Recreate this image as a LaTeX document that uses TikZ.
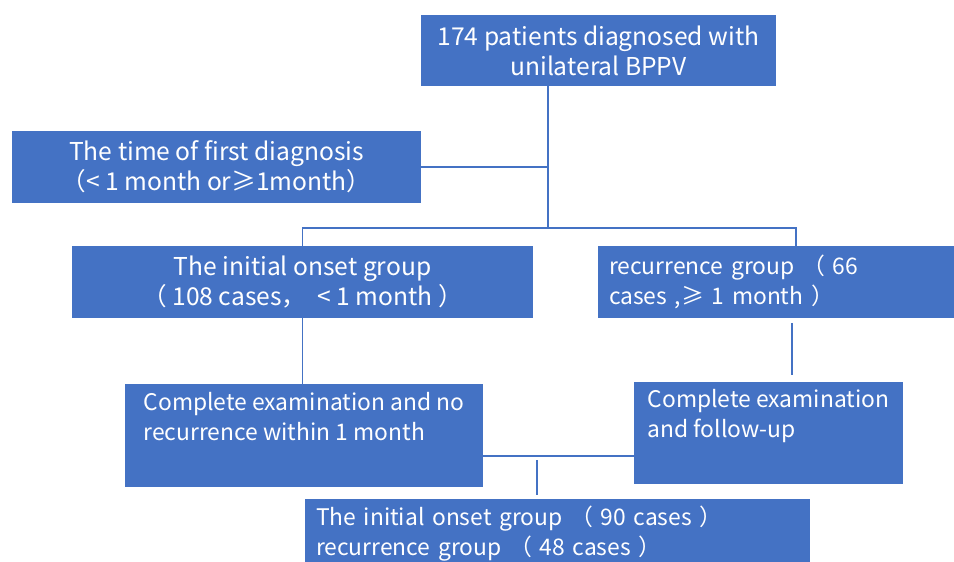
\documentclass[tikz,border=0pt]{standalone}
\usepackage{fontspec}
\usepackage{tikz}
\usetikzlibrary{positioning}
\newfontfamily\cjkfont{Noto Sans CJK SC}
\definecolor{boxblue}{HTML}{4472C4}

\begin{document}
\begin{tikzpicture}[
        box/.style={fill=boxblue, text=white, inner xsep=0.22cm, inner ysep=0pt, outer sep=0pt,
            font=\cjkfont\fontsize{14}{17}\selectfont},
        lbox/.style={box, font=\cjkfont\fontsize{13}{17}\selectfont},
        link/.style={draw=boxblue, line width=0.9pt}]
        \useasboundingbox (0,0) rectangle (19.08,-11.24);
        \node[box, anchor=north west, minimum width=7.10cm, minimum height=1.42cm, align=center] (top) at (8.42,-0.30)
            {174 patients diagnosed with\\unilateral BPPV};
        \node[box, below=0.9cm of top.south west, anchor=north east, minimum width=8.18cm, minimum height=1.44cm, align=center] (time)
            {The time of first diagnosis\\（< 1 month or≥1month）};
        \node[box, below right=0.86cm and 1.2cm of time.south west, anchor=north west, minimum width=9.22cm, minimum height=1.44cm, align=center] (init)
            {The initial onset group\\（ 108 cases，\ \ < 1 month ）};
        \node[lbox, right=1.3cm of init.north east, anchor=north west, minimum width=7.12cm, minimum height=1.44cm, text width=6.68cm, align=left] (recur)
            {recurrence group （ 66\\cases ,≥ 1 month ）};
        \node[lbox, below right=1.32cm and 1.06cm of init.south west, anchor=north west, minimum width=7.16cm, minimum height=2.06cm, align=left] (cmpa)
            {Complete examination and no\\recurrence within 1 month\\\strut};
        \node[lbox, below right=1.28cm and 0.72cm of recur.south west, anchor=north west, minimum width=5.38cm, minimum height=2.04cm, align=left] (cmpb)
            {Complete examination\\and follow-up\\\strut};
        \node[lbox, below right=0.24cm and 3.6cm of cmpa.south west, anchor=north west, minimum width=10.10cm, minimum height=1.4cm, text width=9.66cm, align=left] (final)
            {The initial onset group （ 90 cases ）\\recurrence group （ 48 cases ）};

        % trunk and branches
        \coordinate (t0) at ([xshift=2.54cm]top.south west);
        \coordinate (fork) at ([yshift=-2.84cm]t0);
        \coordinate (rdrop) at ([xshift=3.96cm]recur.north west);
        \draw[link] (t0) -- (fork);
        \draw[link] (time.east) -- (time.east -| t0);
        \draw[link] (init.north) |- (fork) -| (rdrop);
        \draw[link] (init.south) -- (init.south |- cmpa.north);
        \coordinate (r0) at ([xshift=3.88cm,yshift=-0.1cm]recur.south west);
        \coordinate (r1) at ([yshift=-1.04cm]r0);
        \draw[link] (r0) -- (r1);
        \coordinate (j0) at ([yshift=0.62cm]cmpa.south east);
        \draw[link] (j0) -- (j0 -| cmpb.west);
        \coordinate (f0) at ([xshift=4.64cm,yshift=0.08cm]final.north west);
        \coordinate (f1) at ([yshift=0.7cm]f0);
        \draw[link] (f0) -- (f1);
\end{tikzpicture}
\end{document}
